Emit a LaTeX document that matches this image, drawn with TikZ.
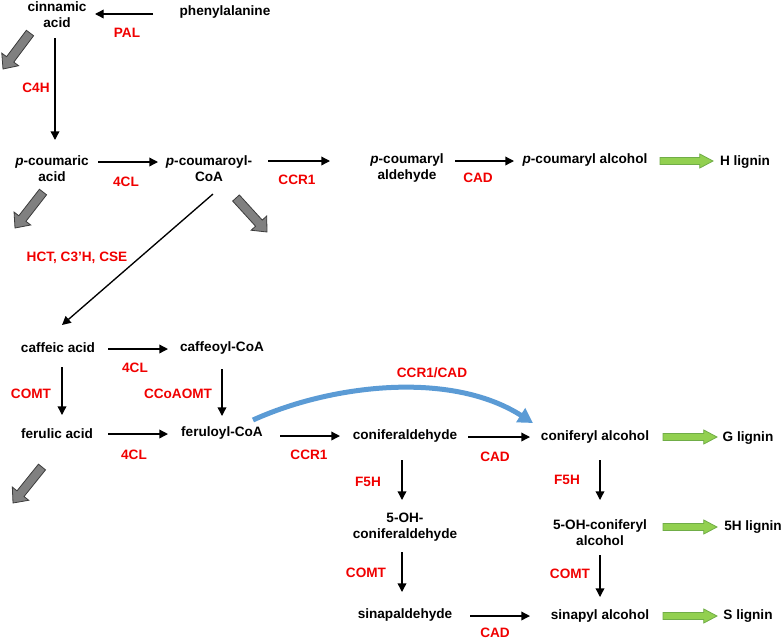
\documentclass[tikz,border=0pt]{standalone}
\usepackage{fontspec}
\setmainfont{Liberation Sans}
\usetikzlibrary{arrows.meta,calc}
\definecolor{lblred}{RGB}{240,0,0}
\definecolor{myblue}{RGB}{91,155,213}
\definecolor{arrgray}{RGB}{128,128,128}
\definecolor{arrgrayd}{RGB}{60,60,60}
\definecolor{arrgreen}{RGB}{146,208,80}
\definecolor{arrgreend}{RGB}{112,173,71}
\newcommand\blockarrow[6]{%
  \coordinate (#2-h) at ($(#3)!#6!(#2)$);
  \draw[#1] ($(#2)!#4!90:(#3)$) -- ($(#2-h)!#4!90:(#3)$) -- ($(#2-h)!#5!90:(#3)$) -- (#3)
    -- ($(#2-h)!#5!-90:(#3)$) -- ($(#2-h)!#4!-90:(#3)$) -- ($(#2)!#4!-90:(#3)$) -- cycle;}
\begin{document}
\begin{tikzpicture}[x=0.75pt,y=-0.75pt,
  txt/.style={inner sep=0pt, font=\fontsize{10.2}{12}\selectfont\bfseries, align=center},
  lbl/.style={txt, text=lblred},
  arr/.style={line width=1pt, -{Triangle[length=6.5pt,width=6.5pt]}},
  bluearr/.style={line width=3.75pt, draw=myblue, -{Triangle[length=11pt,width=12pt]}},
  grayarr/.style={fill=arrgray, draw=arrgrayd, line width=0.6pt},
  greenarr/.style={fill=arrgreen, draw=arrgreend, line width=0.6pt}]
\useasboundingbox (0,0) rectangle (784,640);
% compounds
\node[txt] (cin) at (57,15) {cinnamic\\acid};
\node[txt] (phe) at (225,12) {phenylalanine};
\node[txt] (pca) at (52,169) {\textit{p}-coumaric\\acid};
\node[txt] (pcoa) at (209,169) {\textit{p}-coumaroyl-\\CoA};
\node[txt] (pald) at (407,168) {\textit{p}-coumaryl\\aldehyde};
\node[txt] (palc) at (585,160) {\textit{p}-coumaryl alcohol};
\node[txt] (hlig) at (745,162) {H lignin};
\node[txt] (caf) at (58,348) {caffeic acid};
\node[txt] (cafcoa) at (222,348) {caffeoyl-CoA};
\node[txt] (fer) at (57,434) {ferulic acid};
\node[txt] (fercoa) at (222,433) {feruloyl-CoA};
\node[txt] (conald) at (405,436) {coniferaldehyde};
\node[txt] (conalc) at (595,437) {coniferyl alcohol};
\node[txt] (glig) at (748,438) {G lignin};
\node[txt] (ohald) at (405,527) {5-OH-\\coniferaldehyde};
\node[txt] (ohalc) at (600,533) {5-OH-coniferyl\\alcohol};
\node[txt] (hvlig) at (753,527) {5H lignin};
\node[txt] (sinald) at (405,615) {sinapaldehyde};
\node[txt] (sinalc) at (600,616) {sinapyl alcohol};
\node[txt] (slig) at (748,616) {S lignin};
% enzyme labels
\node[lbl] (lpal) at (127,33) {PAL};
\node[lbl] (lc4h) at (36,88) {C4H};
\node[lbl] (l4cla) at (126,182) {4CL};
\node[lbl] (lccra) at (297,180) {CCR1};
\node[lbl] (lcada) at (478,178) {CAD};
\node[lbl] (lhct) at (77,258) {HCT, C3’H, CSE};
\node[lbl] (l4clb) at (135,368) {4CL};
\node[lbl] (lcomta) at (31,394) {COMT};
\node[lbl] (lccoa) at (178,394) {CCoAOMT};
\node[lbl] (l4clc) at (134,455) {4CL};
\node[lbl] (lccrb) at (309,455) {CCR1};
\node[lbl] (lccrcad) at (432,373) {CCR1/CAD};
\node[lbl] (lcadb) at (495,457) {CAD};
\node[lbl] (lf5ha) at (368,482) {F5H};
\node[lbl] (lf5hb) at (567,480) {F5H};
\node[lbl] (lcomtb) at (366,573) {COMT};
\node[lbl] (lcomtc) at (570,574) {COMT};
\node[lbl] (lcadc) at (495,633) {CAD};
% black arrows
\draw[arr] (phe) ++(-72,2) -- ++(-58,0);
\draw[arr] (cin) ++(-2,23) -- ++(0,102);
\draw[arr] (pca) ++(46,-7) -- ++(60,0);
\draw[arr] (pcoa) ++(59,-8) -- ++(62,0);
\draw[arr] (pald) ++(48,-7) -- ++(59,0);
\draw[arr] (pcoa) ++(4,25) -- ++(-151,131);
\draw[arr] (caf) ++(50,1) -- ++(60,0);
\draw[arr] (caf) ++(4,19) -- ++(0,48);
\draw[arr] (cafcoa) ++(0,21) -- ++(0,47);
\draw[arr] (fer) ++(51,0) -- ++(60,0);
\draw[arr] (fercoa) ++(58,3) -- ++(60,0);
\draw[arr] (conald) ++(63,1) -- ++(62,0);
\draw[arr] (conald) ++(-3,24) -- ++(0,40);
\draw[arr] (ohald) ++(-3,25) -- ++(0,40);
\draw[arr] (sinald) ++(65,1) -- ++(60,0);
\draw[arr] (conalc) ++(5,23) -- ++(0,40);
\draw[arr] (ohalc) ++(0,22) -- ++(0,42);
% blue curved arrow
\draw[bluearr] (fercoa) ++(31,-13) .. controls (330,385) and (450,370) .. ($(conalc)+(-62,-14)$);
% gray block arrows
\coordinate (ga1) at (30,33);  \coordinate (gb1) at (3,69);
\coordinate (ga2) at (43,192); \coordinate (gb2) at (15,228);
\coordinate (ga3) at (236,198); \coordinate (gb3) at (267,232);
\coordinate (ga4) at (42,467); \coordinate (gb4) at (13,503);
\blockarrow{grayarr}{ga1}{gb1}{3.4pt}{7.9pt}{9pt}
\blockarrow{grayarr}{ga2}{gb2}{3.4pt}{7.9pt}{9pt}
\blockarrow{grayarr}{ga3}{gb3}{3.4pt}{7.9pt}{9pt}
\blockarrow{grayarr}{ga4}{gb4}{3.4pt}{7.9pt}{9pt}
% green block arrows
\coordinate (gra1) at ($(palc)+(75,1)$);  \coordinate (grb1) at ($(gra1)+(53,0)$);
\coordinate (gra2) at ($(conalc)+(68,0)$); \coordinate (grb2) at ($(gra2)+(54,0)$);
\coordinate (gra3) at ($(ohalc)+(63,-6)$); \coordinate (grb3) at ($(gra3)+(54,0)$);
\coordinate (gra4) at ($(sinalc)+(63,0)$); \coordinate (grb4) at ($(gra4)+(54,0)$);
\blockarrow{greenarr}{gra1}{grb1}{2.6pt}{5.3pt}{10pt}
\blockarrow{greenarr}{gra2}{grb2}{2.6pt}{5.3pt}{10pt}
\blockarrow{greenarr}{gra3}{grb3}{2.6pt}{5.3pt}{10pt}
\blockarrow{greenarr}{gra4}{grb4}{2.6pt}{5.3pt}{10pt}
\end{tikzpicture}
\end{document}
